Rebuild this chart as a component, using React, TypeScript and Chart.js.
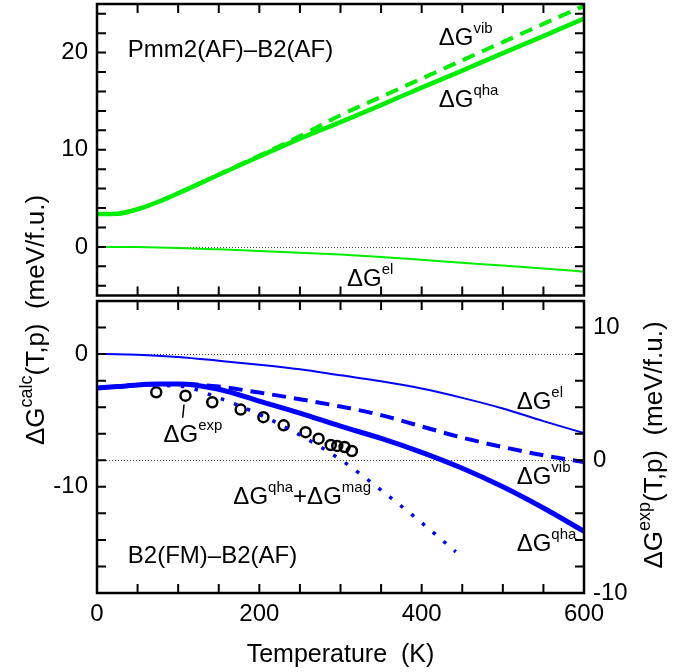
import React, { useEffect, useRef } from 'react';
import { Chart, registerables } from 'chart.js';

Chart.register(...registerables);

const W = 687;
const H = 672;
const FONT = "'Liberation Sans', Arial, Helvetica, sans-serif";

// ---------------- data (T in K, ΔG in meV/f.u.) ----------------
const T_GRID = [0, 25, 50, 75, 100, 150, 200, 250, 300, 350, 400, 450, 500, 550, 600];

// upper panel: Pmm2(AF) - B2(AF)
const TOP_QHA = [3.39, 3.42, 3.88, 4.62, 5.52, 7.43, 9.3, 11.15, 12.85, 14.6, 16.4, 18.15, 19.95, 21.7, 23.5];
const TOP_VIB = [3.39, 3.42, 3.88, 4.62, 5.52, 7.45, 9.4, 11.4, 13.55, 15.44, 17.32, 19.2, 21.08, 22.95, 24.8];
const TOP_EL = [0, -0.005, -0.02, -0.05, -0.1, -0.25, -0.42, -0.6, -0.79, -1.05, -1.33, -1.63, -1.92, -2.22, -2.55];

// lower panel: B2(FM) - B2(AF)
const BOT_EL = [0, -0.01, -0.05, -0.12, -0.22, -0.5, -0.8, -1.15, -1.6, -2.05, -2.6, -3.3, -4.1, -5.05, -5.95];
const BOT_VIB = [-2.55, -2.45, -2.33, -2.26, -2.25, -2.45, -2.9, -3.4, -3.95, -4.6, -5.45, -6.3, -7.0, -7.63, -8.13];
const BOT_QHA = [-2.55, -2.45, -2.33, -2.26, -2.25, -2.65, -3.55, -4.45, -5.43, -6.35, -7.4, -8.6, -10.0, -11.6, -13.35];
const MAG_T = [0, 50, 100, 150, 200, 250, 300, 350, 400, 442];
const BOT_QHA_MAG = [-2.55, -2.35, -2.4, -3.3, -4.55, -6.1, -7.95, -10.25, -12.7, -14.9];
// experimental points (right axis)
const EXP_T = [73, 109, 142, 177, 205, 230, 257, 273, 288, 296, 305, 314];
const EXP_VAL = [5.12, 4.87, 4.37, 3.82, 3.25, 2.63, 2.12, 1.63, 1.15, 1.08, 1.0, 0.7];

// tick labels
const X_TICKS = [0, 200, 400, 600];
const TOP_Y_TICKS = [0, 10, 20];
const BOT_Y_TICKS = [-10, 0];
const BOT_YR_TICKS = [-10, 0, 10];

// text
const X_TITLE = 'Temperature  (K)';
type Seg = { t: string; sup?: boolean };
const LEFT_TITLE: Seg[] = [{ t: 'ΔG' }, { t: 'calc', sup: true }, { t: '(T,p)  (meV/f.u.)' }];
const RIGHT_TITLE: Seg[] = [{ t: 'ΔG' }, { t: 'exp', sup: true }, { t: '(T,p)  (meV/f.u.)' }];

const dG = (s: string): Seg[] => [{ t: 'ΔG' }, { t: s, sup: true }];
const TOP_NOTES = [
  { segs: [{ t: 'Pmm2(AF)–B2(AF)' }], x: 38, y: 19.55 },
  { segs: dG('vib'), x: 421, y: 20.75 },
  { segs: dG('qha'), x: 421, y: 14.4 },
  { segs: dG('el'), x: 308, y: -4.04 },
];
const BOT_NOTES = [
  { segs: dG('el'), x: 517, y: -4.12 },
  { segs: dG('vib'), x: 517, y: -9.75 },
  { segs: dG('qha'), x: 517, y: -14.87 },
  { segs: [...dG('qha'), { t: '+ΔG' }, { t: 'mag', sup: true }], x: 168, y: -11.3 },
  { segs: dG('exp'), x: 82, y: -6.63 },
  { segs: [{ t: 'B2(FM)–B2(AF)' }], x: 38, y: -15.74 },
];
const EXP_LEADER = { x1: 107.2, y1: -3.8, x2: 105.6, y2: -4.8 };

const GREEN = '#00ee00';
const BLUE = '#0000ff';

const xy = (xs: number[], ys: number[]) => xs.map((x, i) => ({ x, y: ys[i] }));

function drawRich(ctx: CanvasRenderingContext2D, segs: Seg[], x: number, y: number, size: number, supSize: number, raise: number, center = false) {
  const widths = segs.map((s) => {
    ctx.font = `${s.sup ? supSize : size}px ${FONT}`;
    return ctx.measureText(s.t).width;
  });
  const total = widths.reduce((a, b) => a + b, 0);
  let cx = center ? x - total / 2 : x;
  ctx.textAlign = 'left';
  ctx.textBaseline = 'alphabetic';
  segs.forEach((s, i) => {
    ctx.font = `${s.sup ? supSize : size}px ${FONT}`;
    ctx.fillText(s.t, cx, s.sup ? y - raise : y);
    cx += widths[i];
  });
}

function panelPlugin(panel: 'top' | 'bottom') {
  return {
    id: 'panel-' + panel,
    beforeDatasetsDraw(chart: any) {
      const { ctx, chartArea: a, scales } = chart;
      ctx.save();
      ctx.strokeStyle = '#444';
      ctx.lineWidth = 1;
      ctx.setLineDash([1, 2]);
      const ys = panel === 'top' ? [scales.y.getPixelForValue(0)] : [scales.y.getPixelForValue(0), scales.yR.getPixelForValue(0)];
      ys.forEach((py: number) => {
        const p = Math.round(py) + 0.5;
        ctx.beginPath();
        ctx.moveTo(a.left, p);
        ctx.lineTo(a.right, p);
        ctx.stroke();
      });
      ctx.restore();
    },
    afterDatasetsDraw(chart: any) {
      const { ctx, chartArea: a, scales } = chart;
      const xs = scales.x;
      const ys = scales.y;
      ctx.save();
      ctx.strokeStyle = '#000';
      // inward ticks
      ctx.lineWidth = 2;
      const TL = 9;
      ctx.beginPath();
      for (let t = 50; t < 600; t += 50) {
        const px = xs.getPixelForValue(t);
        ctx.moveTo(px, a.bottom);
        ctx.lineTo(px, a.bottom - TL);
        ctx.moveTo(px, a.top);
        ctx.lineTo(px, a.top + TL);
      }
      const yMin = ys.min;
      const yMax = ys.max;
      for (let v = Math.ceil(yMin / 2) * 2; v <= yMax; v += 2) {
        if (v === yMin || v === yMax) continue;
        const py = ys.getPixelForValue(v);
        ctx.moveTo(a.left, py);
        ctx.lineTo(a.left + TL, py);
        ctx.moveTo(a.right, py);
        ctx.lineTo(a.right - TL, py);
      }
      ctx.stroke();
      // frame
      ctx.lineWidth = 2.5;
      ctx.strokeRect(a.left, a.top, a.right - a.left, a.bottom - a.top);

      // annotations
      ctx.fillStyle = '#000';
      const notes = panel === 'top' ? TOP_NOTES : BOT_NOTES;
      notes.forEach((n) => {
        drawRich(ctx, n.segs, xs.getPixelForValue(n.x), ys.getPixelForValue(n.y), 24, 15, 12);
      });
      if (panel === 'bottom') {
        ctx.lineWidth = 1.5;
        ctx.beginPath();
        ctx.moveTo(xs.getPixelForValue(EXP_LEADER.x1), ys.getPixelForValue(EXP_LEADER.y1));
        ctx.lineTo(xs.getPixelForValue(EXP_LEADER.x2), ys.getPixelForValue(EXP_LEADER.y2));
        ctx.stroke();
        // right axis title
        ctx.save();
        ctx.translate(662, 445);
        ctx.rotate(-Math.PI / 2);
        drawRich(ctx, RIGHT_TITLE, 0, 0, 26, 18, 12, true);
        ctx.restore();
      } else {
        // left axis title (spans both panels)
        ctx.save();
        ctx.translate(44, 320);
        ctx.rotate(-Math.PI / 2);
        drawRich(ctx, LEFT_TITLE, 0, 0, 26, 18, 12, true);
        ctx.restore();
      }
      ctx.restore();
    },
  };
}

const tickFont = { family: FONT, size: 24 };
const setTicks = (list: number[]) => (s: any) => {
  s.ticks = list.map((v) => ({ value: v }));
};
const fixSize = (dim: 'width' | 'height', v: number) => (s: any) => {
  s[dim] = v;
  s.paddingTop = 0;
  s.paddingBottom = 0;
  s.paddingLeft = 0;
  s.paddingRight = 0;
};
const noGrid = { display: false, drawTicks: false };
const noBorder = { display: false };

function topConfig(): any {
  const line = { pointRadius: 0, cubicInterpolationMode: 'monotone', fill: false, borderColor: GREEN };
  return {
    type: 'line',
    data: {
      datasets: [
        { ...line, data: xy(T_GRID, TOP_EL), borderWidth: 2 },
        { ...line, data: xy(T_GRID, TOP_VIB), borderWidth: 4, borderDash: [13, 8] },
        { ...line, data: xy(T_GRID, TOP_QHA), borderWidth: 4.5 },
      ],
    },
    options: {
      responsive: false,
      animation: false,
      devicePixelRatio: 1,
      events: [],
      layout: { padding: { top: 4, right: 103, bottom: H - 295.5, left: 0 } },
      plugins: { legend: { display: false }, tooltip: { enabled: false } },
      scales: {
        x: { type: 'linear', min: 0, max: 600, display: false },
        y: {
          type: 'linear', min: -5, max: 25, position: 'left',
          grid: noGrid, border: noBorder,
          ticks: { font: tickFont, color: '#000', padding: 9 },
          afterBuildTicks: setTicks(TOP_Y_TICKS),
          afterFit: fixSize('width', 97),
        },
      },
    },
    plugins: [panelPlugin('top')],
  };
}

function bottomConfig(): any {
  const line = { pointRadius: 0, cubicInterpolationMode: 'monotone', fill: false, borderColor: BLUE, yAxisID: 'y' };
  return {
    type: 'line',
    data: {
      datasets: [
        { ...line, data: xy(T_GRID, BOT_EL), borderWidth: 2 },
        { ...line, data: xy(T_GRID, BOT_VIB), borderWidth: 4, borderDash: [14, 8] },
        { ...line, data: xy(MAG_T, BOT_QHA_MAG), borderWidth: 3.5, borderDash: [3.5, 10.5] },
        { ...line, data: xy(T_GRID, BOT_QHA), borderWidth: 5 },
        {
          data: xy(EXP_T, EXP_VAL), yAxisID: 'yR', showLine: false,
          pointRadius: 5, pointBorderWidth: 2.5, pointBorderColor: '#000',
          pointBackgroundColor: 'rgba(0,0,0,0)', borderColor: '#000',
        },
      ],
    },
    options: {
      responsive: false,
      animation: false,
      devicePixelRatio: 1,
      events: [],
      layout: { padding: { top: 301, right: 0, bottom: 0, left: 0 } },
      plugins: { legend: { display: false }, tooltip: { enabled: false } },
      scales: {
        x: {
          type: 'linear', min: 0, max: 600, position: 'bottom',
          grid: noGrid, border: noBorder,
          ticks: { font: tickFont, color: '#000', padding: 7, maxRotation: 0, autoSkip: false },
          afterBuildTicks: setTicks(X_TICKS),
          title: { display: true, text: X_TITLE, color: '#000', font: { family: FONT, size: 25 }, padding: { top: 0, bottom: 2 } },
          afterFit: fixSize('height', 79),
        },
        y: {
          type: 'linear', min: -18, max: 4, position: 'left',
          grid: noGrid, border: noBorder,
          ticks: { font: tickFont, color: '#000', padding: 9 },
          afterBuildTicks: setTicks(BOT_Y_TICKS),
          afterFit: fixSize('width', 97),
        },
        yR: {
          type: 'linear', min: -10, max: 12, position: 'right',
          grid: noGrid, border: noBorder,
          ticks: { font: tickFont, color: '#000', padding: 9 },
          afterBuildTicks: setTicks(BOT_YR_TICKS),
          afterFit: fixSize('width', 103),
        },
      },
    },
    plugins: [panelPlugin('bottom')],
  };
}

export default function App() {
  const topRef = useRef<HTMLCanvasElement>(null);
  const botRef = useRef<HTMLCanvasElement>(null);

  useEffect(() => {
    Chart.defaults.font.family = FONT;
    const c1 = new Chart(topRef.current as HTMLCanvasElement, topConfig());
    const c2 = new Chart(botRef.current as HTMLCanvasElement, bottomConfig());
    return () => {
      c1.destroy();
      c2.destroy();
    };
  }, []);

  const cs: React.CSSProperties = { position: 'absolute', left: 0, top: 0, width: W, height: H };
  return (
    <div style={{ position: 'absolute', left: 0, top: 0, width: W, height: H, background: '#fff' }}>
      <canvas ref={topRef} width={W} height={H} style={cs} />
      <canvas ref={botRef} width={W} height={H} style={cs} />
    </div>
  );
}
